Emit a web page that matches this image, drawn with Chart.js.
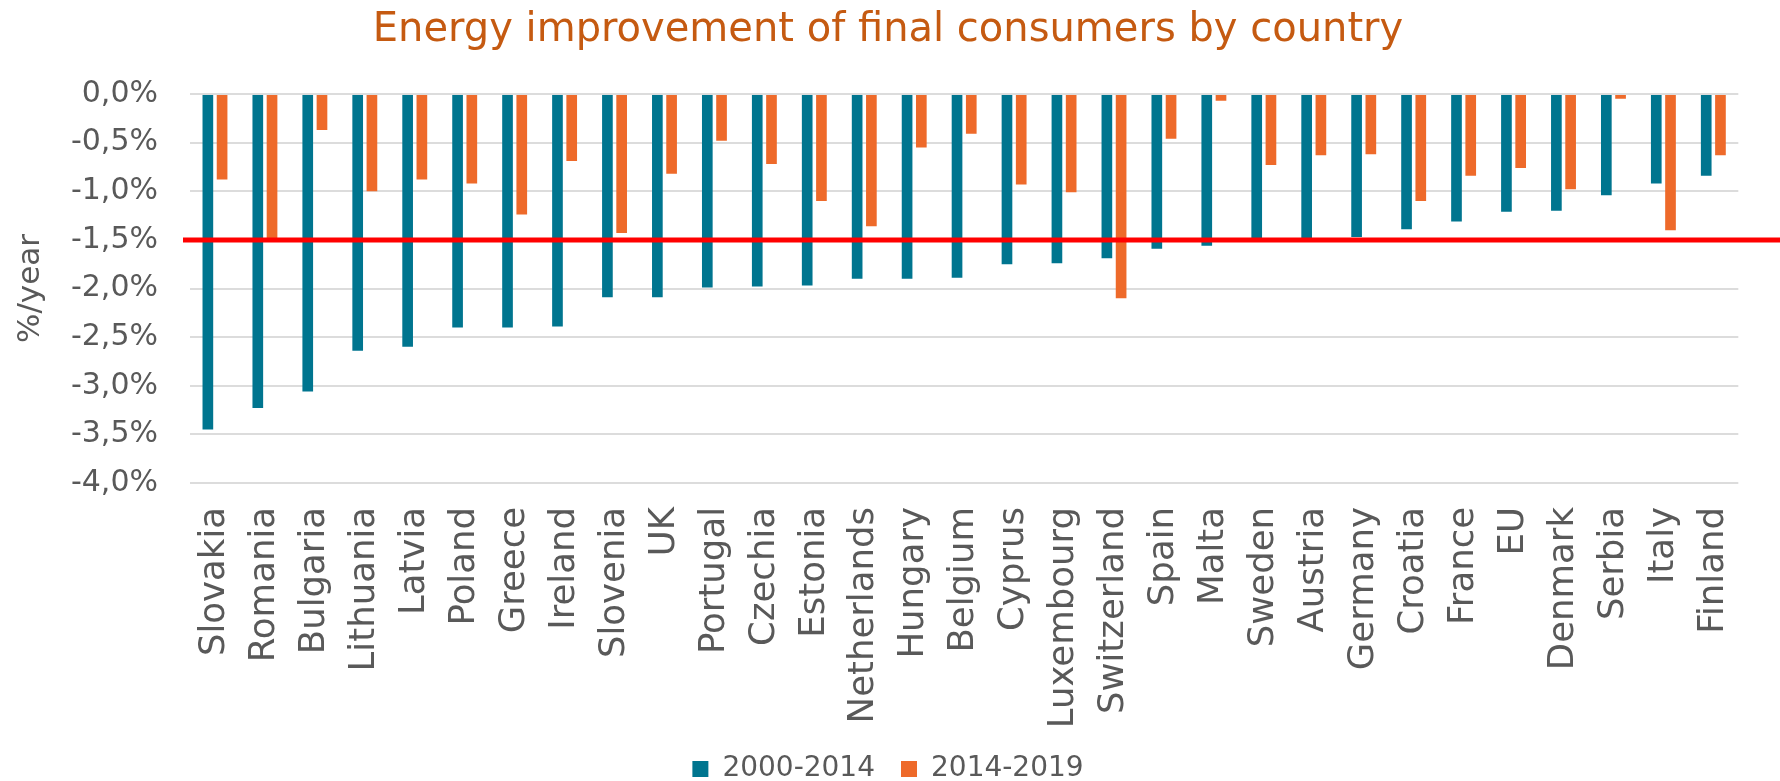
<!DOCTYPE html>
<html>
<head>
<meta charset="utf-8">
<title>Energy improvement of final consumers by country</title>
<script src="https://cdn.jsdelivr.net/npm/chart.js@4.4.1/dist/chart.umd.min.js"></script>
<style>
  html, body { margin: 0; padding: 0; background: #fff; }
  #wrap { width: 1780px; height: 781px; position: relative; }
</style>
</head>
<body>
<div id="wrap"><canvas id="chart"></canvas></div>
<script>
// Countries, sorted by the 2000-2014 improvement
const countries = [
  'Slovakia', 'Romania', 'Bulgaria', 'Lithuania', 'Latvia', 'Poland', 'Greece',
  'Ireland', 'Slovenia', 'UK', 'Portugal', 'Czechia', 'Estonia', 'Netherlands',
  'Hungary', 'Belgium', 'Cyprus', 'Luxembourg', 'Switzerland', 'Spain', 'Malta',
  'Sweden', 'Austria', 'Germany', 'Croatia', 'France', 'EU', 'Denmark', 'Serbia',
  'Italy', 'Finland',
];

// %/year
const period2000_2014 = [
  -3.45, -3.23, -3.06, -2.64, -2.60, -2.40, -2.40,
  -2.39, -2.09, -2.09, -1.99, -1.98, -1.97, -1.90,
  -1.90, -1.89, -1.75, -1.74, -1.69, -1.59, -1.56,
  -1.51, -1.48, -1.47, -1.39, -1.31, -1.21, -1.20, -1.04,
  -0.92, -0.84,
];
const period2014_2019 = [
  -0.88, -1.52, -0.37, -1.00, -0.88, -0.92, -1.24,
  -0.69, -1.43, -0.82, -0.48, -0.72, -1.10, -1.36,
  -0.55, -0.41, -0.93, -1.01, -2.10, -0.46, -0.07,
  -0.73, -0.63, -0.62, -1.10, -0.84, -0.76, -0.98, -0.05,
  -1.40, -0.63,
];
const seriesLabels = ['2000-2014', '2014-2019'];

// Reference level drawn as the red line
const target = -1.5;

// Y axis range / ticks
const yMin = -4;
const yMax = 0;
const yStep = 0.5;

const COLORS = {
  teal: '#00758F',
  orange: '#EE6A2A',
  title: '#C55A11',
  text: '#595959',
  grid: '#dcdcdc',
  target: '#FF0000',
};
const FONT = 'DejaVu Sans, Verdana, sans-serif';

// Red target line across the whole plot, placed through the y scale
const targetLinePlugin = {
  id: 'targetLine',
  afterDatasetsDraw(chart) {
    const { ctx, chartArea, scales } = chart;
    const y = scales.y.getPixelForValue(target);
    ctx.save();
    ctx.strokeStyle = COLORS.target;
    ctx.lineWidth = 5;
    ctx.beginPath();
    ctx.moveTo(chartArea.left - 7, y);
    ctx.lineTo(chart.width, y);
    ctx.stroke();
    ctx.restore();
  },
};

const fmtPct = (v) => (Math.abs(v) < 1e-9 ? 0 : v).toFixed(1).replace('.', ',') + '%';

new Chart(document.getElementById('chart'), {
  type: 'bar',
  data: {
    labels: countries,
    datasets: [
      {
        label: seriesLabels[0],
        data: period2000_2014,
        backgroundColor: COLORS.teal,
        borderWidth: 0,
      },
      {
        label: seriesLabels[1],
        data: period2014_2019,
        backgroundColor: COLORS.orange,
        borderWidth: 0,
      },
    ],
  },
  options: {
    responsive: true,
    maintainAspectRatio: false,
    animation: false,
    datasets: {
      bar: { categoryPercentage: 0.57, barPercentage: 0.75 },
    },
    layout: { padding: { left: 0, right: 4, top: 0, bottom: -12 } },
    scales: {
      x: {
        grid: { display: false, drawTicks: false },
        border: { display: false },
        // room for the long rotated labels (Luxembourg, Netherlands)
        afterFit(scale) { scale.height = 246; },
        ticks: {
          autoSkip: false,
          maxRotation: 90,
          minRotation: 90,
          padding: 24,
          color: COLORS.text,
          font: { family: FONT, size: 35.5 },
        },
      },
      y: {
        min: yMin,
        max: yMax,
        grid: { color: COLORS.grid, lineWidth: 2, drawTicks: false },
        border: { display: false },
        afterFit(scale) { scale.width = 190; },
        ticks: {
          stepSize: yStep,
          padding: 32,
          color: COLORS.text,
          font: { family: FONT, size: 30 },
          callback: (v) => fmtPct(v),
        },
        title: {
          display: true,
          text: '%/year',
          color: COLORS.text,
          font: { family: FONT, size: 31 },
          padding: { top: 12, bottom: 30 },
        },
      },
    },
    plugins: {
      title: {
        display: true,
        text: 'Energy improvement of final consumers by country',
        color: COLORS.title,
        font: { family: FONT, size: 40, weight: 'normal' },
        padding: { top: 7, bottom: 39 },
      },
      legend: {
        position: 'bottom',
        labels: {
          color: COLORS.text,
          font: { family: FONT, size: 28, lineHeight: 1 },
          boxWidth: 16,
          boxHeight: 16,
          padding: 26,
        },
      },
      tooltip: { enabled: false },
    },
  },
  plugins: [targetLinePlugin],
});
</script>
</body>
</html>
